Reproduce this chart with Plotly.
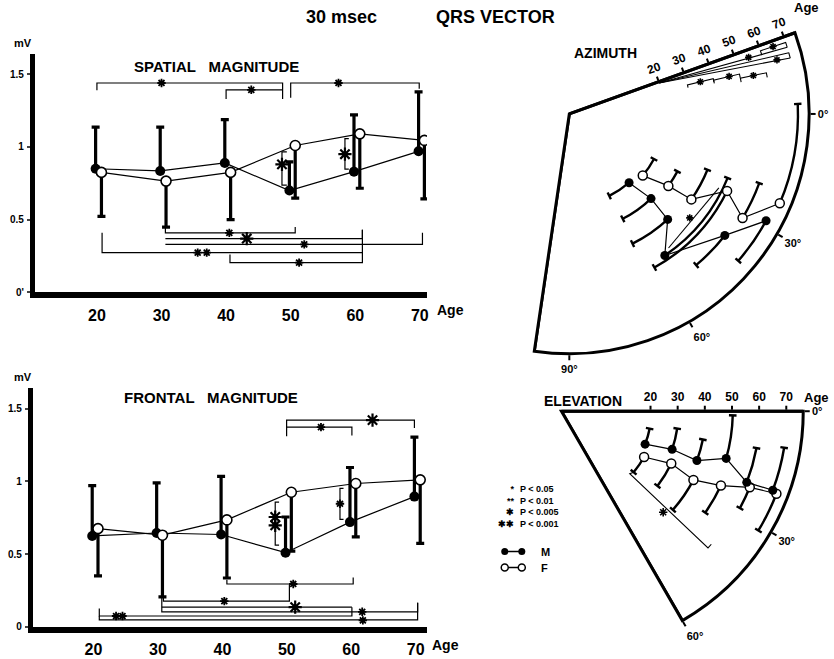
import numpy as np
import plotly.graph_objects as go

W, H = 834, 659
FONT = "Liberation Sans"

# ---------------- data ----------------
AGES = [20, 30, 40, 50, 60, 70]
AGE_LABELS = ["20", "30", "40", "50", "60", "70"]

# Spatial magnitude (mV): means and one-sided SD bar ends
SP_M = [0.85, 0.835, 0.89, 0.70, 0.83, 0.97]
SP_M_HI = [1.136, 1.136, 1.188, 0.898, 1.22, 1.379]
SP_F = [0.825, 0.765, 0.825, 1.01, 1.09, 1.045]
SP_F_LO = [0.523, 0.448, 0.50, 0.648, 0.716, 0.643]

# Frontal magnitude (mV)
FR_M = [0.625, 0.645, 0.635, 0.51, 0.72, 0.895]
FR_M_HI = [0.97, 0.989, 1.034, 0.755, 1.095, 1.304]
FR_F = [0.675, 0.63, 0.735, 0.925, 0.985, 1.01]
FR_F_LO = [0.351, 0.206, 0.336, 0.52, 0.619, 0.574]

# Azimuth (deg) and SD bar ends
AZ_M = [49, 46, 47, 56, 38, 28.5]
AZ_M_END = [64, 63, 64, 22, 50, 41]
AZ_F = [40, 36, 35, 26, 31, 23]
AZ_F_END = [28, 28, 22, 61, 20, -2.5]

# Elevation (deg) and SD bar ends
EL_M = [21.5, 19.0, 20.0, 16.0, 21.0, 20.5]
EL_M_END = [11.2, 8.5, 11.3, 1.4, 10.7, 9.3]
EL_F = [29.0, 25.5, 27.5, 25.0, 22.0, 21.0]
EL_F_END = [40.2, 37.9, 41.5, 35.2, 28.5, 31.2]

# significance brackets: (age_from, age_to, level, end_from, end_to)
SP_BRK = [
    (20.0, 48.75, 1.44, 1.39, 1.33),
    (40.0, 48.75, 1.393, 1.33, 1.393),
    (50.0, 69.9, 1.44, 1.338, 1.40),
    (30.6, 50.7, 0.409, 0.45, 0.45),
    (30.6, 61.1, 0.37, 0.37, 0.43),
    (30.6, 70.4, 0.33, 0.33, 0.41),
    (20.8, 61.1, 0.273, 0.41, 0.273),
    (40.6, 61.1, 0.204, 0.26, 0.43),
]
SP_VBRK = [(48.65, 49.4, 0.966, 0.738), (58.4, 59.0, 1.057, 0.847)]
SP_STAR_S = [(30.0, 1.44), (43.9, 1.393), (57.4, 1.44), (40.5, 0.409), (52.1, 0.33),
             (35.6, 0.273), (37.0, 0.273), (51.3, 0.204)]
SP_STAR_L = [(43.2, 0.37), (48.65, 0.88), (58.4, 0.95)]

FR_BRK = [
    (49.97, 69.8, 1.42, 1.31, 1.367),
    (49.97, 60.1, 1.372, 1.372, 1.315),
    (40.7, 60.3, 0.295, 0.324, 0.34),
    (30.85, 50.4, 0.177, 0.206, 0.29),
    (30.6, 60.1, 0.136, 0.136, 0.136),
    (30.6, 70.3, 0.104, 0.206, 0.166),
    (20.9, 60.1, 0.075, 0.127, 0.136),
    (20.9, 70.3, 0.048, 0.075, 0.166),
]
FR_VBRK = [(48.2, 48.8, 0.857, 0.562), (58.25, 58.8, 0.952, 0.739)]
FR_STAR_S = [(55.3, 1.372), (51.0, 0.295), (40.3, 0.177), (61.7, 0.104),
             (23.5, 0.075), (24.5, 0.075), (61.8, 0.045), (58.25, 0.846)]
FR_STAR_L = [(63.3, 1.42), (51.3, 0.136), (48.2, 0.755), (48.2, 0.698)]

# azimuth age-comparison brackets near the age edge (age, azimuth)
AZ_FAN_FROM = (20, -19.0)
AZ_FAN_TO = [-17.0, -15.6, -14.2]
AZ_SHORT = [(60, 70, -18.3), (30, 40, -13.8), (40, 50, -13.2), (50, 60, -11.8)]
AZ_STARS = [(55, -17.5), (65, -14.6), (65, -18.3), (35, -13.8), (46, -13.2), (55, -11.8)]
AZ_CHORD = [(47, 26.3), (47, 53.5)]
AZ_CHORD_STAR = (44.1, 40.8)

EL_BRK = [(22, 40.2), (21.3, 42.5), (61, 43.0), (61, 41.6)]
EL_STAR = (40, 44.8)

# significance legend
SIG_MARKS = ["*", "**", "✱", "✱✱"]
SIG_TEXTS = ["P < 0.05", "P < 0.01", "P < 0.005", "P < 0.001"]

# ---------------- figure ----------------
fig = go.Figure()
M_DX, F_DX = -0.2, 0.7


def hbr(brks):
    xs, ys = [], []
    for a, b, y, e0, e1 in brks:
        xs += [a, a, b, b, None]
        ys += [e0, y, y, e1, None]
    return xs, ys


def vbr(brks):
    xs, ys = [], []
    for x, sx, y0, y1 in brks:
        xs += [sx, x, x, sx, None]
        ys += [y0, y0, y1, y1, None]
    return xs, ys


def star_marker(size, lw):
    return dict(symbol="asterisk-open", size=size, color="black",
                line=dict(color="black", width=lw))


def cart_panel(xa, ya, m, mhi, f, flo, brk, vb, ss, sl):
    xm = [a + M_DX for a in AGES]
    xf = [a + F_DX for a in AGES]
    bx, by = hbr(brk)
    vx, vy = vbr(vb)
    fig.add_trace(go.Scatter(x=bx + vx, y=by + vy, mode="lines", xaxis=xa, yaxis=ya,
                             line=dict(color="black", width=1.2), hoverinfo="skip"))
    fig.add_trace(go.Scatter(x=xf, y=f, mode="lines", xaxis=xa, yaxis=ya,
                             line=dict(color="black", width=1.2)))
    fig.add_trace(go.Scatter(x=xm, y=m, mode="lines+markers", xaxis=xa, yaxis=ya,
                             line=dict(color="black", width=1.2),
                             marker=dict(color="black", size=10),
                             error_y=dict(type="data", symmetric=False,
                                          array=[h - v for h, v in zip(mhi, m)],
                                          arrayminus=[0] * len(m),
                                          color="black", thickness=3.2, width=4)))
    fig.add_trace(go.Scatter(x=xf, y=f, mode="markers", xaxis=xa, yaxis=ya,
                             marker=dict(color="white", size=10,
                                         line=dict(color="black", width=1.6)),
                             error_y=dict(type="data", symmetric=False,
                                          array=[0] * len(f),
                                          arrayminus=[v - l for v, l in zip(f, flo)],
                                          color="black", thickness=3.2, width=4)))
    fig.add_trace(go.Scatter(x=[p[0] for p in ss], y=[p[1] for p in ss], mode="markers",
                             xaxis=xa, yaxis=ya, marker=star_marker(7, 1.8)))
    fig.add_trace(go.Scatter(x=[p[0] for p in sl], y=[p[1] for p in sl], mode="markers",
                             xaxis=xa, yaxis=ya, marker=star_marker(11, 2.2)))


cart_panel("x", "y", SP_M, SP_M_HI, SP_F, SP_F_LO, SP_BRK, SP_VBRK, SP_STAR_S, SP_STAR_L)
cart_panel("x2", "y2", FR_M, FR_M_HI, FR_F, FR_F_LO, FR_BRK, FR_VBRK, FR_STAR_S, FR_STAR_L)


def polar_panel(sub, m, mend, f, fend, m_dr, f_dr, edge_theta, r0, r1):
    rm = [a + m_dr for a in AGES]
    rf = [a + f_dr for a in AGES]
    # sector straight edge
    fig.add_trace(go.Scatterpolar(r=[r0, r1], theta=[edge_theta, edge_theta], mode="lines",
                                  subplot=sub, line=dict(color="black", width=3)))
    # SD arcs
    th = 0.9
    for rr, v, e in ((rm, m, mend), (rf, f, fend)):
        fig.add_trace(go.Barpolar(r=[th] * len(rr), base=[x - th / 2 for x in rr],
                                  theta=[(a + b) / 2 for a, b in zip(v, e)],
                                  width=[abs(b - a) for a, b in zip(v, e)],
                                  subplot=sub, marker=dict(color="black", line=dict(width=0))))
        cr, ct = [], []
        for x, b in zip(rr, e):
            cr += [x - 1.4, x + 1.4, None]
            ct += [b, b, None]
        fig.add_trace(go.Scatterpolar(r=cr, theta=ct, mode="lines", subplot=sub,
                                      line=dict(color="black", width=2.4)))
    fig.add_trace(go.Scatterpolar(r=rf, theta=f, mode="lines+markers", subplot=sub,
                                  line=dict(color="black", width=1.2),
                                  marker=dict(color="white", size=9,
                                              line=dict(color="black", width=1.5))))
    fig.add_trace(go.Scatterpolar(r=rm, theta=m, mode="lines+markers", subplot=sub,
                                  line=dict(color="black", width=1.2),
                                  marker=dict(color="black", size=9)))


AZ_R0, AZ_PX = -15.8, 2.68
EL_R0, EL_PX = -12.8, 2.74
AZ_C, AZ_R = (570, 115), 242
EL_C, EL_R = (562, 415), 244
AZ_SECTOR = [-98.4, 19.8]
EL_SECTOR = [-60, 0]
AZ_R1 = AZ_R0 + AZ_R / AZ_PX
EL_R1 = EL_R0 + EL_R / EL_PX

polar_panel("polar", AZ_M, AZ_M_END, AZ_F, AZ_F_END, -1.5, 0.3, -AZ_SECTOR[0], AZ_R0, AZ_R1)
polar_panel("polar2", EL_M, EL_M_END, EL_F, EL_F_END, 0.3, 2.0, -EL_SECTOR[0], EL_R0, EL_R1)

# azimuth brackets
br, bt = [], []
for e in AZ_FAN_TO:
    br += [AZ_FAN_FROM[0], 70, None]
    bt += [AZ_FAN_FROM[1], e, None]
br += [70, 70, None]
bt += [AZ_FAN_TO[1], AZ_FAN_TO[-1], None]
for a, b, t in AZ_SHORT:
    br += [a, a, b, b, None]
    bt += [t + 1.3, t, t, t + 1.3, None]
br += [AZ_CHORD[0][0], AZ_CHORD[1][0], None]
bt += [AZ_CHORD[0][1], AZ_CHORD[1][1], None]
fig.add_trace(go.Scatterpolar(r=br, theta=bt, mode="lines", subplot="polar",
                              line=dict(color="black", width=1.1)))
fig.add_trace(go.Scatterpolar(r=[s[0] for s in AZ_STARS] + [AZ_CHORD_STAR[0]],
                              theta=[s[1] for s in AZ_STARS] + [AZ_CHORD_STAR[1]],
                              mode="markers", subplot="polar", marker=star_marker(6, 1.6)))
fig.add_trace(go.Scatterpolar(r=[p[0] for p in EL_BRK], theta=[p[1] for p in EL_BRK],
                              mode="lines", subplot="polar2",
                              line=dict(color="black", width=1.1)))
fig.add_trace(go.Scatterpolar(r=[EL_STAR[0]], theta=[EL_STAR[1]], mode="markers",
                              subplot="polar2", marker=star_marker(7, 1.6)))

# legend symbols (M / F)
fig.add_trace(go.Scatter(x=[0.05, 0.95], y=[0.78, 0.78], mode="lines+markers", xaxis="x3", yaxis="y3",
                         cliponaxis=False,
                         line=dict(color="black", width=1.5), marker=dict(color="black", size=7)))
fig.add_trace(go.Scatter(x=[0.05, 0.95], y=[0.24, 0.24], mode="lines+markers", xaxis="x3", yaxis="y3",
                         cliponaxis=False,
                         line=dict(color="black", width=1.5),
                         marker=dict(color="white", size=7, line=dict(color="black", width=1.5))))


def sector_domain(c, R, a0, a1):
    angs = [a0, a1] + [a for a in (-180, -90, 0, 90, 180) if a0 <= a <= a1]
    xs = [0] + [np.cos(np.radians(a)) for a in angs]
    ys = [0] + [np.sin(np.radians(a)) for a in angs]
    x0, x1 = c[0] + R * min(xs), c[0] + R * max(xs)
    yt, yb = c[1] - R * max(ys), c[1] - R * min(ys)
    return dict(x=[x0 / W, x1 / W], y=[1 - yb / H, 1 - yt / H])


def px_dom(a, b, n):
    return [a / n, b / n]


bold = dict(family=FONT, color="black", weight="bold")
cart_x = dict(tickvals=AGES, ticktext=AGE_LABELS, ticks="", showgrid=False, zeroline=False,
              showline=True, linecolor="black", linewidth=6, tickfont=dict(size=16, **bold),
              ticklabelstandoff=3)
cart_y = dict(tickvals=[0, 0.5, 1, 1.5], showgrid=False, zeroline=False, showline=True,
              linecolor="black", linewidth=5, ticks="outside", ticklen=3, tickwidth=1.5,
              tickfont=dict(size=10, **bold), ticklabelstandoff=1)

pol_common_ang = dict(direction="clockwise", rotation=0, showgrid=False, showline=True,
                      linecolor="black", linewidth=3, ticks="outside", ticklen=5, tickwidth=2,
                      tickcolor="black", tickfont=dict(size=11, **bold))
pol_common_rad = dict(tickvals=AGES, ticktext=AGE_LABELS, showgrid=False, showline=True,
                      linecolor="black", linewidth=3, ticks="outside", ticklen=4, tickwidth=2,
                      tickcolor="black", side="counterclockwise", tickangle=0,
                      tickfont=dict(size=12, **bold))

fig.update_layout(
    width=W, height=H, margin=dict(l=0, r=0, t=0, b=0),
    paper_bgcolor="white", plot_bgcolor="white", showlegend=False,
    font=dict(family=FONT, color="black"),
    xaxis=dict(domain=px_dom(35, 428, W), range=[10.4, 71.1], anchor="y", **cart_x),
    yaxis=dict(domain=[1 - 295 / H, 1 - 55 / H], range=[0, 1.636], anchor="x",
               ticktext=["0'", "0.5", "1", "1.5"], **cart_y),
    xaxis2=dict(domain=px_dom(33, 428, W), range=[10.6, 71.75], anchor="y2", **cart_x),
    yaxis2=dict(domain=[1 - 632.7 / H, 1 - 391.7 / H], range=[0, 1.64], anchor="x2",
                ticktext=["0", "0.5", "1", "1.5"], **cart_y),
    xaxis3=dict(domain=px_dom(505, 524, W), range=[0, 1], visible=False, anchor="y3"),
    yaxis3=dict(domain=[1 - 580 / H, 1 - 550 / H], range=[0, 1], visible=False, anchor="x3"),
    polar=dict(domain=sector_domain(AZ_C, AZ_R, *AZ_SECTOR), sector=AZ_SECTOR,
               bgcolor="white", barmode="overlay",
               angularaxis=dict(tickvals=[0, 30, 60, 90], ticktext=["0°", "30°", "60°", "90°"],
                                **pol_common_ang),
               radialaxis=dict(range=[AZ_R0, AZ_R1], angle=AZ_SECTOR[1], **pol_common_rad)),
    polar2=dict(domain=sector_domain(EL_C, EL_R, *EL_SECTOR), sector=EL_SECTOR,
                bgcolor="white", barmode="overlay",
                angularaxis=dict(tickvals=[0, 30, 60], ticktext=["0°", "30°", "60°"],
                                 **pol_common_ang),
                radialaxis=dict(range=[EL_R0, EL_R1], angle=EL_SECTOR[1], **pol_common_rad)),
)


def ann(text, x, y, size, xanchor="center", align="center"):
    fig.add_annotation(text=text, x=x / W, y=1 - y / H, xref="paper", yref="paper",
                       showarrow=False, xanchor=xanchor, yanchor="middle", align=align,
                       font=dict(size=size, **bold))


NB = "\u00a0"
ann("30 msec", 342, 17, 18)
ann("QRS VECTOR", 497, 17, 18)
ann("mV", 23, 43, 11)
ann("mV", 23, 380, 11)
ann("Age", 452, 313, 14)
ann("Age", 447, 651, 14)
ann("SPATIAL" + NB * 3 + "MAGNITUDE", 217, 67, 15)
ann("FRONTAL" + NB * 3 + "MAGNITUDE", 212, 401, 15)
ann("AZIMUTH", 607, 53, 14)
ann("ELEVATION", 584, 405, 14)
ann("Age", 808, 8, 13)
ann("Age", 818, 401, 13)
ann("<br>".join(SIG_MARKS), 517, 511.5, 9, "right", "right")
ann("<br>".join(SIG_TEXTS), 519, 511.5, 9, "left", "left")
ann("M", 540, 557, 11, "left")
ann("F", 540, 573, 11, "left")

fig.write_html("out.html")
